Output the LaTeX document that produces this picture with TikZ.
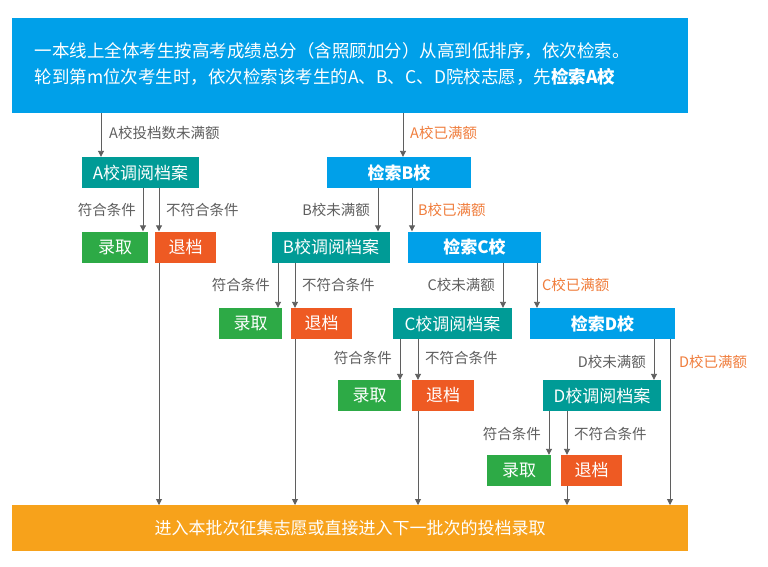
\documentclass[tikz,border=0pt]{standalone}
\usepackage{fontspec}
\setmainfont{Noto Sans CJK SC}
\usetikzlibrary{arrows.meta}
\definecolor{topblue}{RGB}{0,160,233}
\definecolor{teal1}{RGB}{0,155,150}
\definecolor{green1}{RGB}{45,170,70}
\definecolor{red1}{RGB}{238,90,35}
\definecolor{orange1}{RGB}{247,162,27}
\definecolor{olab}{RGB}{240,125,60}
\definecolor{glab}{RGB}{95,95,95}
\tikzset{
  x=1pt,y=-1pt,
  bx/.style={minimum width=#1, minimum height=31pt, inner sep=0pt, text=white, font=\fontsize{17}{17}\selectfont},
  teal/.style={bx=#1, fill=teal1},
  srch/.style={bx=#1, fill=topblue, font=\fontsize{17}{17}\selectfont\bfseries},
  ok/.style={bx=#1, fill=green1},
  no/.style={bx=#1, fill=red1},
  ar/.style={draw=glab, line width=0.9pt, -{Triangle[length=6pt,width=6pt]}},
  gl/.style={text=glab, font=\fontsize{14.5}{14.5}\selectfont, inner sep=1pt},
  ol/.style={text=olab, font=\fontsize{14.5}{14.5}\selectfont, inner sep=1pt},
}
\begin{document}
\begin{tikzpicture}
\useasboundingbox (0,0) rectangle (768,566);
\fill[white] (0,0) rectangle (768,566);
\fill[topblue] (12,18) rectangle (688,113);
\node[anchor=west, text=white, font=\fontsize{17.5}{17.5}\selectfont, align=left] (toptxt) at (31,64) {一本线上全体考生按高考成绩总分（含照顾加分）从高到低排序，依次检索。\\[8pt]轮到第m位次考生时，依次检索该考生的A、B、C、D院校志愿，先\textbf{检索A校}};
\fill[orange1] (12,505) rectangle (688,551);
\node[text=white, font=\fontsize{17}{17}\selectfont] (bot) at (350,528) {进入本批次征集志愿或直接进入下一批次的投档录取};

\node[teal=117pt] (Ad) at (140.5,172.5) {A校调阅档案};
\node[srch=144pt] (Bs) at (399,172.5) {检索B校};
\node[ok=66pt] (Ay) at (115,247) {录取};
\node[no=61pt] (An) at (185.5,247) {退档};
\node[teal=118pt] (Bd) at (331,247) {B校调阅档案};
\node[srch=133pt] (Cs) at (474.5,247) {检索C校};
\node[ok=63pt] (By) at (250.5,323.5) {录取};
\node[no=61pt] (Bn) at (321.5,323.5) {退档};
\node[teal=119pt] (Cd) at (452.5,323.5) {C校调阅档案};
\node[srch=145pt] (Ds) at (602.5,323.5) {检索D校};
\node[ok=63pt] (Cy) at (369.5,395.5) {录取};
\node[no=62pt] (Cn) at (443,395.5) {退档};
\node[teal=118pt] (Dd) at (602,395.5) {D校调阅档案};
\node[ok=64pt] (Dy) at (519,470.5) {录取};
\node[no=61pt] (Dn) at (591.5,470.5) {退档};

\draw[ar] (101,113) -- (Ad.north -| 101,0);
\node[gl,anchor=west] at (108,133) {A校投档数未满额};
\draw[ar] (403,113) -- (Bs.north -| 403,0);
\node[ol,anchor=west] at (409,133) {A校已满额};
\draw[ar] (Ad.south -| 143,0) -- (Ay.north -| 143,0);
\draw[ar] (Ad.south -| 159,0) -- (An.north -| 159,0);
\node[gl,anchor=east] at (137,210) {符合条件};
\node[gl,anchor=west] at (165,210) {不符合条件};
\draw[ar] (An.south -| 159,0) -- (159,505);
\draw[ar] (Bs.south -| 378,0) -- (Bd.north -| 378,0);
\node[gl,anchor=east] at (371,210) {B校未满额};
\draw[ar] (Bs.south -| 412,0) -- (Cs.north -| 412,0);
\node[ol,anchor=west] at (417,210) {B校已满额};
\draw[ar] (Bd.south -| 278,0) -- (By.north -| 278,0);
\draw[ar] (Bd.south -| 295,0) -- (Bn.north -| 295,0);
\node[gl,anchor=east] at (271,285) {符合条件};
\node[gl,anchor=west] at (301,285) {不符合条件};
\draw[ar] (Bn.south -| 295,0) -- (295,505);
\draw[ar] (Cs.south -| 503,0) -- (Cd.north -| 503,0);
\node[gl,anchor=east] at (496,285) {C校未满额};
\draw[ar] (Cs.south -| 537,0) -- (Ds.north -| 537,0);
\node[ol,anchor=west] at (541,285) {C校已满额};
\draw[ar] (Cd.south -| 400,0) -- (Cy.north -| 400,0);
\draw[ar] (Cd.south -| 418,0) -- (Cn.north -| 418,0);
\node[gl,anchor=east] at (393,358) {符合条件};
\node[gl,anchor=west] at (424,358) {不符合条件};
\draw[ar] (Cn.south -| 418,0) -- (418,505);
\draw[ar] (Ds.south -| 654,0) -- (Dd.north -| 654,0);
\node[gl,anchor=east] at (647,362) {D校未满额};
\draw[ar] (Ds.south -| 670,0) -- (670,505);
\node[ol,anchor=west] at (678,362) {D校已满额};
\draw[ar] (Dd.south -| 549,0) -- (Dy.north -| 549,0);
\draw[ar] (Dd.south -| 567,0) -- (Dn.north -| 567,0);
\node[gl,anchor=east] at (542,434) {符合条件};
\node[gl,anchor=west] at (573,434) {不符合条件};
\draw[ar] (Dn.south -| 567,0) -- (567,505);
\end{tikzpicture}
\end{document}
